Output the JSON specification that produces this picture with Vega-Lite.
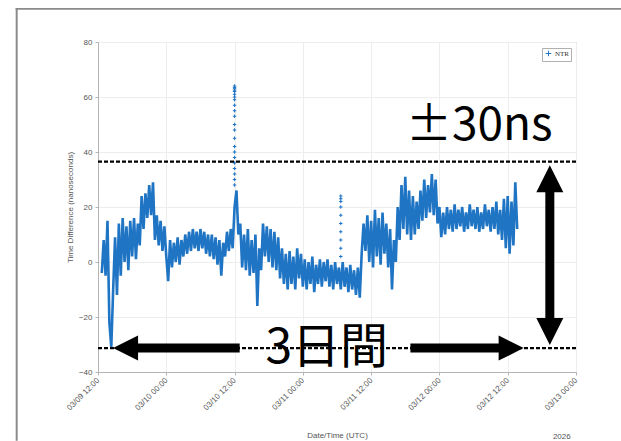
{
  "$schema": "https://vega.github.io/schema/vega-lite/v6.json",
  "usermeta": {"embedOptions": {"actions": false}},
  "width": 478,
  "height": 330,
  "autosize": {"type": "none"},
  "padding": {"left": 98, "top": 42, "right": 45, "bottom": 69},
  "background": "white",
  "data": {"values": [{}]},
  "config": {
    "view": {"stroke": "#b4b4b4", "strokeWidth": 1},
    "font": "Liberation Sans",
    "axis": {"labelFont": "Liberation Sans", "titleFont": "Liberation Sans", "labelColor": "#555", "titleColor": "#555", "titleFontWeight": "normal", "gridColor": "#ededed", "domainColor": "#b4b4b4", "tickColor": "#b4b4b4", "tickSize": 3}
  },
  "datasets": {
    "ntr": [
      {"t":"2026-03-09T12:40:00Z","v":-4},{"t":"2026-03-09T13:00:00Z","v":8},{"t":"2026-03-09T13:20:00Z","v":-5},{"t":"2026-03-09T13:40:00Z","v":15},
      {"t":"2026-03-09T14:00:00Z","v":-22},{"t":"2026-03-09T14:20:00Z","v":-31},{"t":"2026-03-09T14:40:00Z","v":-10},{"t":"2026-03-09T15:00:00Z","v":9},
      {"t":"2026-03-09T15:20:00Z","v":-12},{"t":"2026-03-09T15:40:00Z","v":14},{"t":"2026-03-09T16:00:00Z","v":-5},{"t":"2026-03-09T16:20:00Z","v":16},
      {"t":"2026-03-09T16:40:00Z","v":0},{"t":"2026-03-09T17:00:00Z","v":13},{"t":"2026-03-09T17:20:00Z","v":-3},{"t":"2026-03-09T17:40:00Z","v":15},
      {"t":"2026-03-09T18:00:00Z","v":2},{"t":"2026-03-09T18:20:00Z","v":16},{"t":"2026-03-09T18:40:00Z","v":1},{"t":"2026-03-09T19:00:00Z","v":14},
      {"t":"2026-03-09T19:20:00Z","v":6},{"t":"2026-03-09T19:40:00Z","v":24},{"t":"2026-03-09T20:00:00Z","v":12},{"t":"2026-03-09T20:20:00Z","v":25},
      {"t":"2026-03-09T20:40:00Z","v":16},{"t":"2026-03-09T21:00:00Z","v":28},{"t":"2026-03-09T21:20:00Z","v":17},{"t":"2026-03-09T21:40:00Z","v":29},
      {"t":"2026-03-09T22:00:00Z","v":8},{"t":"2026-03-09T22:20:00Z","v":17},{"t":"2026-03-09T22:40:00Z","v":6},{"t":"2026-03-09T23:00:00Z","v":15},
      {"t":"2026-03-09T23:20:00Z","v":4},{"t":"2026-03-09T23:40:00Z","v":13},
      {"t":"2026-03-10T00:00:00Z","v":2},{"t":"2026-03-10T00:20:00Z","v":-7},{"t":"2026-03-10T00:40:00Z","v":8},{"t":"2026-03-10T01:00:00Z","v":-2},
      {"t":"2026-03-10T01:20:00Z","v":7},{"t":"2026-03-10T01:40:00Z","v":0},{"t":"2026-03-10T02:00:00Z","v":9},{"t":"2026-03-10T02:20:00Z","v":-1},
      {"t":"2026-03-10T02:40:00Z","v":8},{"t":"2026-03-10T03:00:00Z","v":2},{"t":"2026-03-10T03:20:00Z","v":10},{"t":"2026-03-10T03:40:00Z","v":3},
      {"t":"2026-03-10T04:00:00Z","v":11},{"t":"2026-03-10T04:20:00Z","v":4},{"t":"2026-03-10T04:40:00Z","v":12},{"t":"2026-03-10T05:00:00Z","v":5},
      {"t":"2026-03-10T05:20:00Z","v":11},{"t":"2026-03-10T05:40:00Z","v":4},{"t":"2026-03-10T06:00:00Z","v":12},{"t":"2026-03-10T06:20:00Z","v":5},
      {"t":"2026-03-10T06:40:00Z","v":11},{"t":"2026-03-10T07:00:00Z","v":3},{"t":"2026-03-10T07:20:00Z","v":10},{"t":"2026-03-10T07:40:00Z","v":2},
      {"t":"2026-03-10T08:00:00Z","v":10},{"t":"2026-03-10T08:20:00Z","v":1},{"t":"2026-03-10T08:40:00Z","v":9},{"t":"2026-03-10T09:00:00Z","v":-1},
      {"t":"2026-03-10T09:20:00Z","v":8},{"t":"2026-03-10T09:40:00Z","v":-5},{"t":"2026-03-10T10:00:00Z","v":7},{"t":"2026-03-10T10:20:00Z","v":2},
      {"t":"2026-03-10T10:40:00Z","v":11},{"t":"2026-03-10T11:00:00Z","v":4},{"t":"2026-03-10T11:20:00Z","v":12},{"t":"2026-03-10T11:40:00Z","v":5},
      {"t":"2026-03-10T12:00:00Z","v":20},{"t":"2026-03-10T12:20:00Z","v":26},{"t":"2026-03-10T12:40:00Z","v":10},{"t":"2026-03-10T13:00:00Z","v":14},
      {"t":"2026-03-10T13:20:00Z","v":-2},{"t":"2026-03-10T13:40:00Z","v":10},{"t":"2026-03-10T14:00:00Z","v":-3},{"t":"2026-03-10T14:20:00Z","v":12},
      {"t":"2026-03-10T14:40:00Z","v":-5},{"t":"2026-03-10T15:00:00Z","v":8},{"t":"2026-03-10T15:20:00Z","v":-4},{"t":"2026-03-10T15:40:00Z","v":10},
      {"t":"2026-03-10T16:00:00Z","v":-16},{"t":"2026-03-10T16:20:00Z","v":5},{"t":"2026-03-10T16:40:00Z","v":-3},{"t":"2026-03-10T17:00:00Z","v":14},
      {"t":"2026-03-10T17:20:00Z","v":2},{"t":"2026-03-10T17:40:00Z","v":13},{"t":"2026-03-10T18:00:00Z","v":0},{"t":"2026-03-10T18:20:00Z","v":12},
      {"t":"2026-03-10T18:40:00Z","v":-2},{"t":"2026-03-10T19:00:00Z","v":11},{"t":"2026-03-10T19:20:00Z","v":-3},{"t":"2026-03-10T19:40:00Z","v":9},
      {"t":"2026-03-10T20:00:00Z","v":-6},{"t":"2026-03-10T20:20:00Z","v":5},{"t":"2026-03-10T20:40:00Z","v":-8},{"t":"2026-03-10T21:00:00Z","v":3},
      {"t":"2026-03-10T21:20:00Z","v":-10},{"t":"2026-03-10T21:40:00Z","v":4},{"t":"2026-03-10T22:00:00Z","v":-8},{"t":"2026-03-10T22:20:00Z","v":2},
      {"t":"2026-03-10T22:40:00Z","v":-10},{"t":"2026-03-10T23:00:00Z","v":5},{"t":"2026-03-10T23:20:00Z","v":-6},{"t":"2026-03-10T23:40:00Z","v":3},
      {"t":"2026-03-11T00:00:00Z","v":-9},{"t":"2026-03-11T00:20:00Z","v":1},{"t":"2026-03-11T00:40:00Z","v":-10},{"t":"2026-03-11T01:00:00Z","v":0},
      {"t":"2026-03-11T01:20:00Z","v":-8},{"t":"2026-03-11T01:40:00Z","v":2},{"t":"2026-03-11T02:00:00Z","v":-11},{"t":"2026-03-11T02:20:00Z","v":-1},
      {"t":"2026-03-11T02:40:00Z","v":-8},{"t":"2026-03-11T03:00:00Z","v":1},{"t":"2026-03-11T03:20:00Z","v":-9},{"t":"2026-03-11T03:40:00Z","v":0},
      {"t":"2026-03-11T04:00:00Z","v":-7},{"t":"2026-03-11T04:20:00Z","v":1},{"t":"2026-03-11T04:40:00Z","v":-9},{"t":"2026-03-11T05:00:00Z","v":-1},
      {"t":"2026-03-11T05:20:00Z","v":-10},{"t":"2026-03-11T05:40:00Z","v":0},{"t":"2026-03-11T06:00:00Z","v":-8},{"t":"2026-03-11T06:20:00Z","v":-2},
      {"t":"2026-03-11T06:40:00Z","v":-10},{"t":"2026-03-11T07:00:00Z","v":0},{"t":"2026-03-11T07:20:00Z","v":-9},{"t":"2026-03-11T07:40:00Z","v":-2},
      {"t":"2026-03-11T08:00:00Z","v":-11},{"t":"2026-03-11T08:20:00Z","v":-1},{"t":"2026-03-11T08:40:00Z","v":-10},{"t":"2026-03-11T09:00:00Z","v":-3},
      {"t":"2026-03-11T09:20:00Z","v":-12},{"t":"2026-03-11T09:40:00Z","v":-2},{"t":"2026-03-11T10:00:00Z","v":-13},{"t":"2026-03-11T10:20:00Z","v":3},
      {"t":"2026-03-11T10:40:00Z","v":14},{"t":"2026-03-11T11:00:00Z","v":4},{"t":"2026-03-11T11:20:00Z","v":17},{"t":"2026-03-11T11:40:00Z","v":0},
      {"t":"2026-03-11T12:00:00Z","v":15},{"t":"2026-03-11T12:20:00Z","v":-2},{"t":"2026-03-11T12:40:00Z","v":19},{"t":"2026-03-11T13:00:00Z","v":2},
      {"t":"2026-03-11T13:20:00Z","v":16},{"t":"2026-03-11T13:40:00Z","v":-1},{"t":"2026-03-11T14:00:00Z","v":18},{"t":"2026-03-11T14:20:00Z","v":3},
      {"t":"2026-03-11T14:40:00Z","v":14},{"t":"2026-03-11T15:00:00Z","v":-2},{"t":"2026-03-11T15:20:00Z","v":12},{"t":"2026-03-11T15:40:00Z","v":-10},
      {"t":"2026-03-11T16:00:00Z","v":8},{"t":"2026-03-11T16:20:00Z","v":0},{"t":"2026-03-11T16:40:00Z","v":20},{"t":"2026-03-11T17:00:00Z","v":8},
      {"t":"2026-03-11T17:20:00Z","v":28},{"t":"2026-03-11T17:40:00Z","v":12},{"t":"2026-03-11T18:00:00Z","v":31},{"t":"2026-03-11T18:20:00Z","v":10},
      {"t":"2026-03-11T18:40:00Z","v":26},{"t":"2026-03-11T19:00:00Z","v":8},{"t":"2026-03-11T19:20:00Z","v":24},{"t":"2026-03-11T19:40:00Z","v":10},
      {"t":"2026-03-11T20:00:00Z","v":22},{"t":"2026-03-11T20:20:00Z","v":12},{"t":"2026-03-11T20:40:00Z","v":26},{"t":"2026-03-11T21:00:00Z","v":15},
      {"t":"2026-03-11T21:20:00Z","v":30},{"t":"2026-03-11T21:40:00Z","v":16},{"t":"2026-03-11T22:00:00Z","v":28},{"t":"2026-03-11T22:20:00Z","v":18},
      {"t":"2026-03-11T22:40:00Z","v":32},{"t":"2026-03-11T23:00:00Z","v":17},{"t":"2026-03-11T23:20:00Z","v":30},{"t":"2026-03-11T23:40:00Z","v":14},
      {"t":"2026-03-12T00:00:00Z","v":20},{"t":"2026-03-12T00:20:00Z","v":9},{"t":"2026-03-12T00:40:00Z","v":18},{"t":"2026-03-12T01:00:00Z","v":10},
      {"t":"2026-03-12T01:20:00Z","v":20},{"t":"2026-03-12T01:40:00Z","v":12},{"t":"2026-03-12T02:00:00Z","v":19},{"t":"2026-03-12T02:20:00Z","v":11},
      {"t":"2026-03-12T02:40:00Z","v":21},{"t":"2026-03-12T03:00:00Z","v":12},{"t":"2026-03-12T03:20:00Z","v":19},{"t":"2026-03-12T03:40:00Z","v":13},
      {"t":"2026-03-12T04:00:00Z","v":20},{"t":"2026-03-12T04:20:00Z","v":11},{"t":"2026-03-12T04:40:00Z","v":18},{"t":"2026-03-12T05:00:00Z","v":12},
      {"t":"2026-03-12T05:20:00Z","v":21},{"t":"2026-03-12T05:40:00Z","v":13},{"t":"2026-03-12T06:00:00Z","v":19},{"t":"2026-03-12T06:20:00Z","v":12},
      {"t":"2026-03-12T06:40:00Z","v":20},{"t":"2026-03-12T07:00:00Z","v":11},{"t":"2026-03-12T07:20:00Z","v":18},{"t":"2026-03-12T07:40:00Z","v":12},
      {"t":"2026-03-12T08:00:00Z","v":21},{"t":"2026-03-12T08:20:00Z","v":13},{"t":"2026-03-12T08:40:00Z","v":19},{"t":"2026-03-12T09:00:00Z","v":11},
      {"t":"2026-03-12T09:20:00Z","v":20},{"t":"2026-03-12T09:40:00Z","v":12},{"t":"2026-03-12T10:00:00Z","v":22},{"t":"2026-03-12T10:20:00Z","v":10},
      {"t":"2026-03-12T10:40:00Z","v":19},{"t":"2026-03-12T11:00:00Z","v":8},{"t":"2026-03-12T11:20:00Z","v":23},{"t":"2026-03-12T11:40:00Z","v":5},
      {"t":"2026-03-12T12:00:00Z","v":24},{"t":"2026-03-12T12:20:00Z","v":3},{"t":"2026-03-12T12:40:00Z","v":22},{"t":"2026-03-12T13:00:00Z","v":6},
      {"t":"2026-03-12T13:20:00Z","v":29},{"t":"2026-03-12T13:40:00Z","v":12}
    ],
    "spikes": [
      {"t":"2026-03-10T12:00:00Z","v":64},{"t":"2026-03-10T12:00:00Z","v":63.5},{"t":"2026-03-10T12:00:00Z","v":63},{"t":"2026-03-10T12:00:00Z","v":62.5},
      {"t":"2026-03-10T12:00:00Z","v":62},{"t":"2026-03-10T12:00:00Z","v":61},{"t":"2026-03-10T12:00:00Z","v":60},{"t":"2026-03-10T12:00:00Z","v":59},
      {"t":"2026-03-10T12:00:00Z","v":57},{"t":"2026-03-10T12:00:00Z","v":55},{"t":"2026-03-10T12:00:00Z","v":53},{"t":"2026-03-10T12:00:00Z","v":50},
      {"t":"2026-03-10T12:00:00Z","v":48},{"t":"2026-03-10T12:00:00Z","v":45},{"t":"2026-03-10T12:00:00Z","v":42},{"t":"2026-03-10T12:00:00Z","v":40},
      {"t":"2026-03-10T12:00:00Z","v":38},{"t":"2026-03-10T12:00:00Z","v":36},{"t":"2026-03-10T12:00:00Z","v":34},{"t":"2026-03-10T12:00:00Z","v":32},
      {"t":"2026-03-10T12:00:00Z","v":30},{"t":"2026-03-10T12:00:00Z","v":28},
      {"t":"2026-03-11T06:40:00Z","v":24},{"t":"2026-03-11T06:40:00Z","v":23},{"t":"2026-03-11T06:40:00Z","v":22},{"t":"2026-03-11T06:40:00Z","v":20},
      {"t":"2026-03-11T06:40:00Z","v":17},{"t":"2026-03-11T06:40:00Z","v":14},{"t":"2026-03-11T06:40:00Z","v":11},{"t":"2026-03-11T06:40:00Z","v":8},
      {"t":"2026-03-11T06:40:00Z","v":5},{"t":"2026-03-11T06:40:00Z","v":2}
    ]
  },
  "layer": [
    {
      "data": {"name": "ntr"},
      "mark": {"type": "line", "color": "#1f74c4", "strokeWidth": 2.6, "strokeJoin": "miter"},
      "encoding": {
        "x": {
          "field": "t", "type": "temporal",
          "scale": {"type": "utc", "domain": [{"year": 2026, "month": 3, "date": 9, "hours": 12, "utc": true}, {"year": 2026, "month": 3, "date": 13, "hours": 0, "utc": true}]},
          "axis": {
            "title": "Date/Time (UTC)", "titleFontSize": 8, "titleY": 59, "titleBaseline": "top",
            "format": "%m/%d %H:%M", "labelAngle": -45, "labelAlign": "right", "labelBaseline": "middle",
            "labelFontSize": 8, "labelOverlap": false, "labelBound": false, "labelFlush": false, "labelPadding": 4,
            "values": [
              {"year": 2026, "month": 3, "date": 9, "hours": 12, "utc": true},
              {"year": 2026, "month": 3, "date": 10, "hours": 0, "utc": true},
              {"year": 2026, "month": 3, "date": 10, "hours": 12, "utc": true},
              {"year": 2026, "month": 3, "date": 11, "hours": 0, "utc": true},
              {"year": 2026, "month": 3, "date": 11, "hours": 12, "utc": true},
              {"year": 2026, "month": 3, "date": 12, "hours": 0, "utc": true},
              {"year": 2026, "month": 3, "date": 12, "hours": 12, "utc": true},
              {"year": 2026, "month": 3, "date": 13, "hours": 0, "utc": true}
            ]
          }
        },
        "y": {
          "field": "v", "type": "quantitative",
          "scale": {"domain": [-40, 80], "nice": false, "zero": false},
          "axis": {"title": "Time Difference (nanoseconds)", "titleFontSize": 8, "labelFontSize": 8, "values": [-40, -20, 0, 20, 40, 60, 80], "labelPadding": 3}
        }
      }
    },
    {
      "data": {"name": "spikes"},
      "mark": {"type": "point", "shape": "M-1,0L1,0M0,-1L0,1", "size": 12, "filled": false, "strokeWidth": 1, "opacity": 1},
      "encoding": {
        "x": {"field": "t", "type": "temporal"},
        "y": {"field": "v", "type": "quantitative"},
        "color": {
          "datum": "NTR", "type": "nominal",
          "scale": {"range": ["#1f74c4"]},
          "legend": {"title": null, "orient": "none", "legendX": 444, "legendY": 6, "symbolType": "M-1,0L1,0M0,-1L0,1", "symbolSize": 30, "symbolStrokeWidth": 1, "symbolFillColor": "transparent", "labelFontSize": 7, "labelFont": "Liberation Serif", "labelColor": "#333", "padding": 2, "strokeColor": "#b0b0b0", "fillColor": "white", "symbolOffset": 1, "labelOffset": 3}
        }
      }
    },
    {
      "mark": {"type": "rule", "color": "black", "strokeWidth": 2.2, "strokeDash": [4, 2], "clip": false},
      "encoding": {"y": {"datum": 36.5, "type": "quantitative"}}
    },
    {
      "mark": {"type": "rule", "color": "black", "strokeWidth": 2.2, "strokeDash": [4, 2], "clip": false},
      "encoding": {"y": {"datum": -31.3, "type": "quantitative"}}
    },
    {
      "mark": {"type": "rule", "color": "black", "strokeWidth": 9, "strokeCap": "butt"},
      "encoding": {
        "x": {"datum": {"year": 2026, "month": 3, "date": 12, "hours": 19, "minutes": 24, "utc": true}, "type": "temporal"},
        "y": {"datum": 26, "type": "quantitative"},
        "y2": {"datum": -22}
      }
    },
    {
      "mark": {"type": "point", "shape": "M0,0L1,2L-1,2Z", "size": 729, "filled": true, "color": "black", "opacity": 1},
      "encoding": {
        "x": {"datum": {"year": 2026, "month": 3, "date": 12, "hours": 19, "minutes": 24, "utc": true}, "type": "temporal"},
        "y": {"datum": 35.2, "type": "quantitative"}
      }
    },
    {
      "mark": {"type": "point", "shape": "M0,0L1,-2L-1,-2Z", "size": 729, "filled": true, "color": "black", "opacity": 1},
      "encoding": {
        "x": {"datum": {"year": 2026, "month": 3, "date": 12, "hours": 19, "minutes": 24, "utc": true}, "type": "temporal"},
        "y": {"datum": -30.2, "type": "quantitative"}
      }
    },
    {
      "mark": {"type": "rule", "color": "black", "strokeWidth": 9, "strokeCap": "butt"},
      "encoding": {
        "x": {"datum": {"year": 2026, "month": 3, "date": 9, "hours": 19, "minutes": 0, "utc": true}, "type": "temporal"},
        "x2": {"datum": {"year": 2026, "month": 3, "date": 10, "hours": 12, "minutes": 54, "utc": true}},
        "y": {"datum": -31.3, "type": "quantitative"}
      }
    },
    {
      "mark": {"type": "rule", "color": "black", "strokeWidth": 9, "strokeCap": "butt"},
      "encoding": {
        "x": {"datum": {"year": 2026, "month": 3, "date": 11, "hours": 18, "minutes": 54, "utc": true}, "type": "temporal"},
        "x2": {"datum": {"year": 2026, "month": 3, "date": 12, "hours": 10, "minutes": 30, "utc": true}},
        "y": {"datum": -31.3, "type": "quantitative"}
      }
    },
    {
      "mark": {"type": "point", "shape": "M0,0L2,-1L2,1Z", "size": 625, "filled": true, "color": "black", "opacity": 1},
      "encoding": {
        "x": {"datum": {"year": 2026, "month": 3, "date": 9, "hours": 14, "minutes": 39, "utc": true}, "type": "temporal"},
        "y": {"datum": -31.3, "type": "quantitative"}
      }
    },
    {
      "mark": {"type": "point", "shape": "M0,0L-2,-1L-2,1Z", "size": 625, "filled": true, "color": "black", "opacity": 1},
      "encoding": {
        "x": {"datum": {"year": 2026, "month": 3, "date": 12, "hours": 14, "minutes": 48, "utc": true}, "type": "temporal"},
        "y": {"datum": -31.3, "type": "quantitative"}
      }
    },
    {
      "mark": {"type": "text", "text": "±30ns", "font": "Noto Sans CJK JP", "fontSize": 46, "align": "center", "baseline": "alphabetic", "color": "black"},
      "encoding": {
        "x": {"datum": {"year": 2026, "month": 3, "date": 12, "hours": 7, "minutes": 0, "utc": true}, "type": "temporal"},
        "y": {"datum": 44.4, "type": "quantitative"}
      }
    },
    {
      "mark": {"type": "text", "text": "3日間", "font": "Noto Sans CJK JP", "fontSize": 48, "align": "center", "baseline": "alphabetic", "color": "black"},
      "encoding": {
        "x": {"datum": {"year": 2026, "month": 3, "date": 11, "hours": 4, "minutes": 12, "utc": true}, "type": "temporal"},
        "y": {"datum": -36.9, "type": "quantitative"}
      }
    },
    {
      "mark": {"type": "text", "text": "2026", "font": "Liberation Sans", "fontSize": 8, "align": "center", "baseline": "top", "color": "#555", "clip": false},
      "encoding": {
        "x": {"datum": {"year": 2026, "month": 3, "date": 12, "hours": 21, "minutes": 30, "utc": true}, "type": "temporal"},
        "y": {"datum": -62.0, "type": "quantitative"}
      }
    },
    {
      "mark": {"type": "rect", "color": "#8a8a8a", "clip": false},
      "encoding": {
        "x": {"datum": {"year": 2026, "month": 3, "date": 8, "hours": 21, "minutes": 32, "utc": true}, "type": "temporal"},
        "x2": {"datum": {"year": 2026, "month": 3, "date": 13, "hours": 8, "minutes": 10, "utc": true}},
        "y": {"datum": 92.4, "type": "quantitative"},
        "y2": {"datum": 91.7}
      }
    },
    {
      "mark": {"type": "rect", "color": "#8a8a8a", "clip": false},
      "encoding": {
        "x": {"datum": {"year": 2026, "month": 3, "date": 8, "hours": 21, "minutes": 32, "utc": true}, "type": "temporal"},
        "x2": {"datum": {"year": 2026, "month": 3, "date": 8, "hours": 21, "minutes": 53, "utc": true}},
        "y": {"datum": 92.4, "type": "quantitative"},
        "y2": {"datum": -65.0}
      }
    }
  ]
}
